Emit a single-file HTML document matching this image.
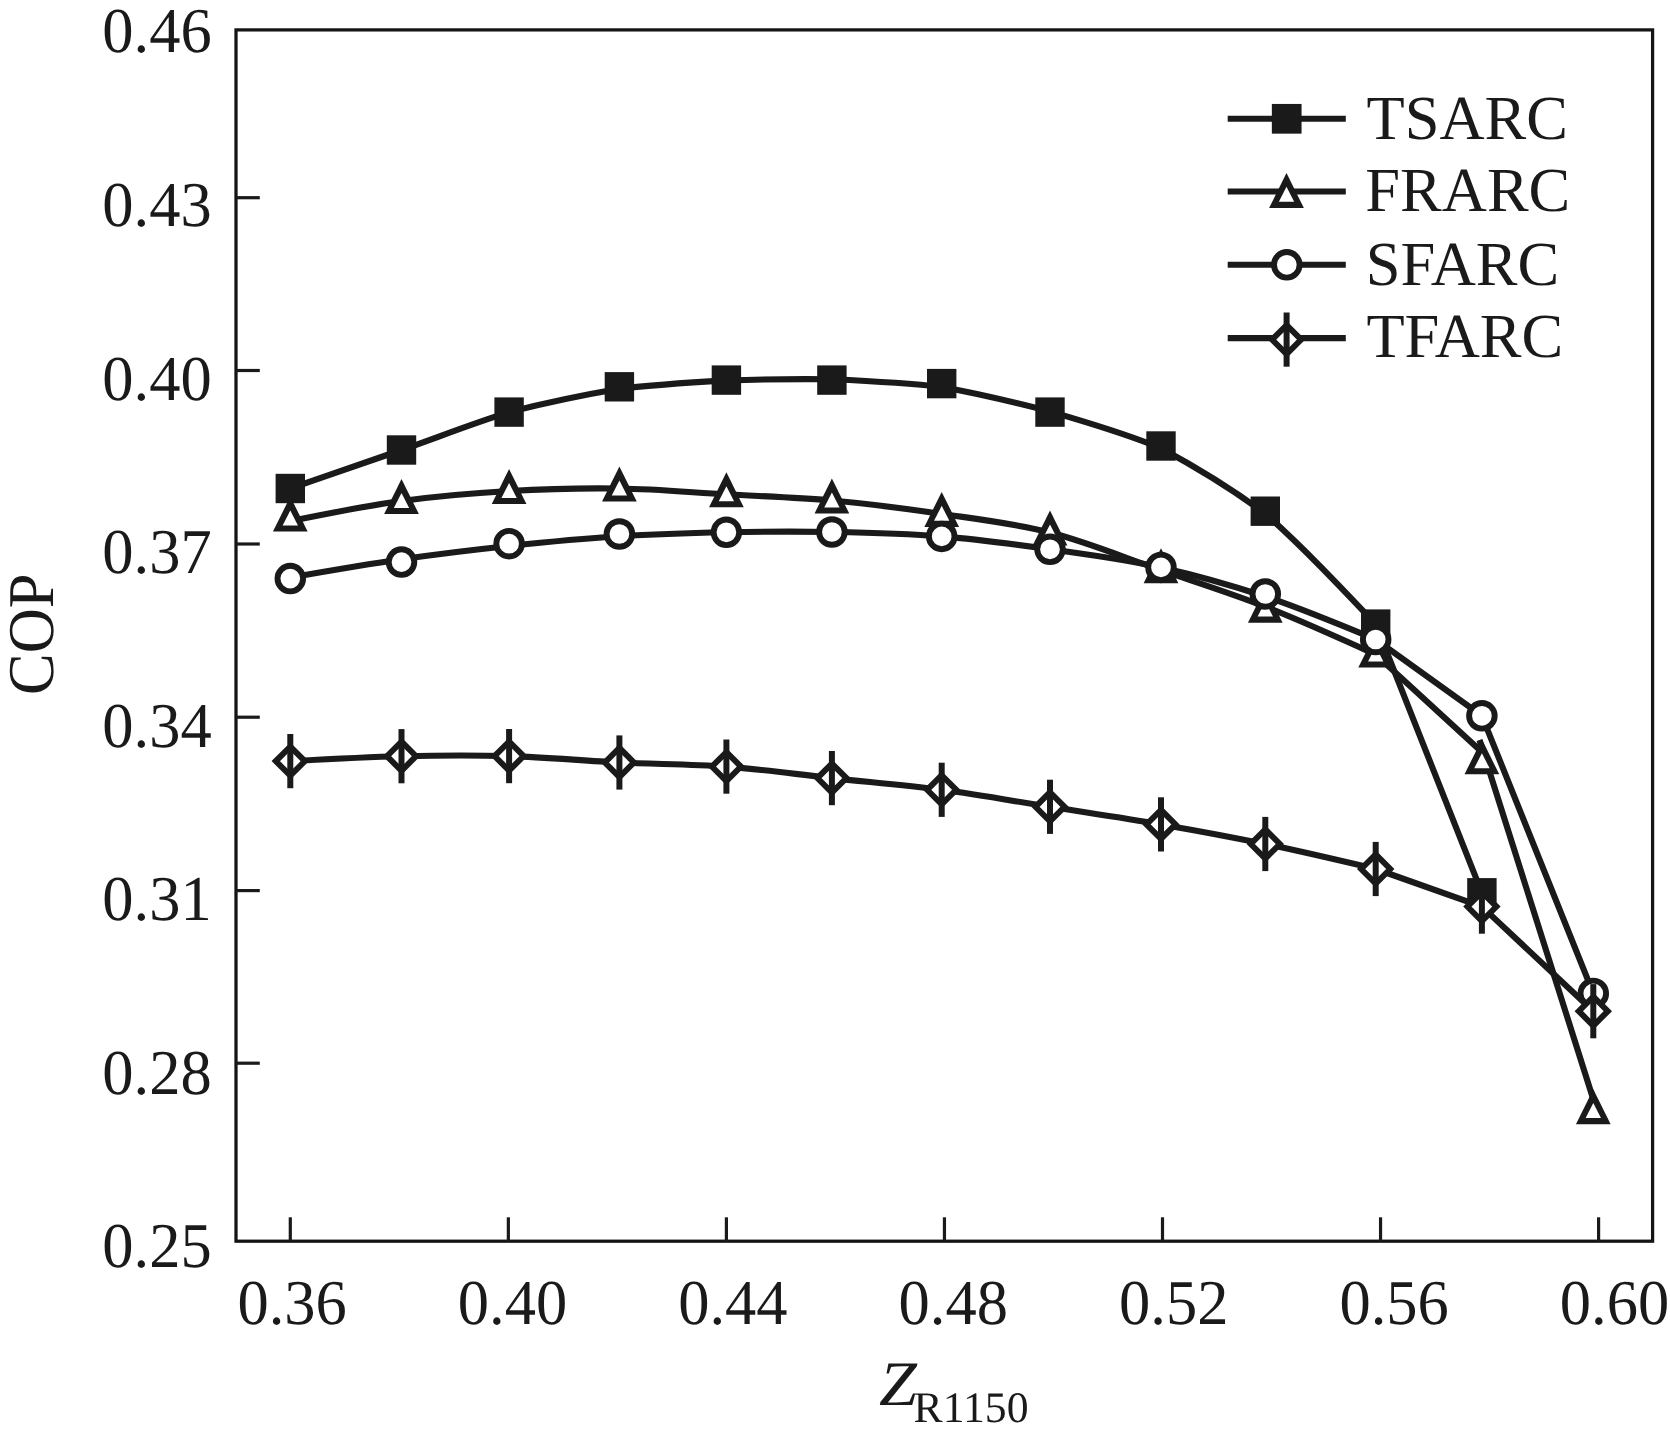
<!DOCTYPE html>
<html><head><meta charset="utf-8"><title>COP vs Z</title>
<style>
html,body{margin:0;padding:0;background:#fff;}
body{width:1670px;height:1441px;overflow:hidden;}
svg{display:block;position:absolute;left:0;top:0;}
text{font-family:"Liberation Serif",serif;fill:#1a1a1a;text-rendering:geometricPrecision;}
.t{font-size:62.5px;}
</style></head><body>
<svg width="1670" height="1441" viewBox="0 0 1670 1441">
<rect x="0" y="0" width="1670" height="1441" fill="#fff"/>
<rect x="236" y="29.9" width="1416.6" height="1211.3" fill="none" stroke="#141414" stroke-width="3.25"/>
<line x1="236" y1="197.7" x2="259.8" y2="197.7" stroke="#1a1a1a" stroke-width="3.2"/>
<line x1="236" y1="370.5" x2="259.8" y2="370.5" stroke="#1a1a1a" stroke-width="3.2"/>
<line x1="236" y1="544" x2="259.8" y2="544" stroke="#1a1a1a" stroke-width="3.2"/>
<line x1="236" y1="717.2" x2="259.8" y2="717.2" stroke="#1a1a1a" stroke-width="3.2"/>
<line x1="236" y1="890.6" x2="259.8" y2="890.6" stroke="#1a1a1a" stroke-width="3.2"/>
<line x1="236" y1="1063.2" x2="259.8" y2="1063.2" stroke="#1a1a1a" stroke-width="3.2"/>
<line x1="290.3" y1="1217.3" x2="290.3" y2="1241.2" stroke="#1a1a1a" stroke-width="3.2"/>
<line x1="508.35" y1="1217.3" x2="508.35" y2="1241.2" stroke="#1a1a1a" stroke-width="3.2"/>
<line x1="726.4" y1="1217.3" x2="726.4" y2="1241.2" stroke="#1a1a1a" stroke-width="3.2"/>
<line x1="944.45" y1="1217.3" x2="944.45" y2="1241.2" stroke="#1a1a1a" stroke-width="3.2"/>
<line x1="1162.5" y1="1217.3" x2="1162.5" y2="1241.2" stroke="#1a1a1a" stroke-width="3.2"/>
<line x1="1380.55" y1="1217.3" x2="1380.55" y2="1241.2" stroke="#1a1a1a" stroke-width="3.2"/>
<line x1="1598.6" y1="1217.3" x2="1598.6" y2="1241.2" stroke="#1a1a1a" stroke-width="3.2"/>
<text class="t" transform="translate(102.3,52.45) scale(1,1.022)">0.46</text>
<text class="t" transform="translate(102.3,226.01) scale(1,1.022)">0.43</text>
<text class="t" transform="translate(102.3,399.57) scale(1,1.022)">0.40</text>
<text class="t" transform="translate(102.3,573.13) scale(1,1.022)">0.37</text>
<text class="t" transform="translate(102.3,746.69) scale(1,1.022)">0.34</text>
<text class="t" transform="translate(102.3,920.25) scale(1,1.022)">0.31</text>
<text class="t" transform="translate(102.3,1093.81) scale(1,1.022)">0.28</text>
<text class="t" transform="translate(102.3,1267.37) scale(1,1.022)">0.25</text>
<text class="t" transform="translate(237.4,1323.95) scale(1,1.022)">0.36</text>
<text class="t" transform="translate(457.8,1323.95) scale(1,1.022)">0.40</text>
<text class="t" transform="translate(678.2,1323.95) scale(1,1.022)">0.44</text>
<text class="t" transform="translate(898.6,1323.95) scale(1,1.022)">0.48</text>
<text class="t" transform="translate(1119,1323.95) scale(1,1.022)">0.52</text>
<text class="t" transform="translate(1339.4,1323.95) scale(1,1.022)">0.56</text>
<text class="t" transform="translate(1559.8,1323.95) scale(1,1.022)">0.60</text>
<text class="t" transform="translate(52.55,634.2) rotate(-90) scale(1,1.045)" text-anchor="middle">COP</text>
<text class="t" transform="translate(879.0,1404.8) scale(1.09,1.012)" font-style="italic">Z</text>
<text x="913.6" y="1421.6" style="font-size:43.7px;filter:grayscale(1)">R1150</text>
<g id="tsarc">
<path d="M290.3,488.5C327.37,475.7 364.43,462.9 401.5,450C437.37,437.43 473.23,423.22 509.1,412.1C545.87,402.78 582.63,395.1 619.4,388.8C655.07,384.58 690.73,382.47 726.4,380.4C761.57,379.32 796.73,378.82 831.9,379.3C868.5,380.98 905.1,382.73 941.7,387C977.8,393.45 1013.9,402.11 1050,411.4C1087,422.51 1124,432.73 1161,448.3C1195.77,467.03 1230.53,488.01 1265.3,513.7C1302.1,546.38 1338.9,585.24 1375.7,624.1L1481.9,892.8" fill="none" stroke="#1a1a1a" stroke-width="6.1" stroke-linejoin="round"/>
<rect x="275.6" y="473.8" width="29.4" height="29.4" fill="#1a1a1a"/><rect x="386.8" y="435.3" width="29.4" height="29.4" fill="#1a1a1a"/><rect x="494.4" y="397.4" width="29.4" height="29.4" fill="#1a1a1a"/><rect x="604.7" y="372.1" width="29.4" height="29.4" fill="#1a1a1a"/><rect x="711.7" y="365.4" width="29.4" height="29.4" fill="#1a1a1a"/><rect x="817.2" y="365.4" width="29.4" height="29.4" fill="#1a1a1a"/><rect x="927" y="368.9" width="29.4" height="29.4" fill="#1a1a1a"/><rect x="1035.3" y="397.4" width="29.4" height="29.4" fill="#1a1a1a"/><rect x="1146.3" y="431.3" width="29.4" height="29.4" fill="#1a1a1a"/><rect x="1250.6" y="496.5" width="29.4" height="29.4" fill="#1a1a1a"/><rect x="1361" y="609.4" width="29.4" height="29.4" fill="#1a1a1a"/><rect x="1467.2" y="878.1" width="29.4" height="29.4" fill="#1a1a1a"/>
</g>
<g id="frarc">
<path d="M290.3,521.1C327.37,513.59 364.43,506.07 401.5,501C437.37,496.09 473.23,493.07 509.1,491C545.87,488.87 582.63,487.92 619.4,488.5C655.07,489.06 690.73,492.29 726.4,494.3C761.57,496.29 796.73,497.32 831.9,500.5C868.5,503.81 905.1,508.52 941.7,513.9C977.8,519.2 1013.9,523.27 1050,532.5C1087,541.96 1124,557.44 1161,570.2C1195.77,582.19 1230.53,593.07 1265.3,606.7C1302.1,621.12 1338.9,637.86 1375.7,654.6L1481.9,752M1479.5,740L1593.5,1100" fill="none" stroke="#1a1a1a" stroke-width="6.1" stroke-linejoin="round"/>
<polygon points="290.3,496.6 307.65,531.6 272.95,531.6" fill="#1a1a1a"/><polygon points="290.3,510.5 297.95,525.5 282.65,525.5" fill="#fff"/><polygon points="401.5,479 418.85,514 384.15,514" fill="#1a1a1a"/><polygon points="401.5,492.9 409.15,507.9 393.85,507.9" fill="#fff"/><polygon points="509.1,469 526.45,504 491.75,504" fill="#1a1a1a"/><polygon points="509.1,482.9 516.75,497.9 501.45,497.9" fill="#fff"/><polygon points="619.4,466.5 636.75,501.5 602.05,501.5" fill="#1a1a1a"/><polygon points="619.4,480.4 627.05,495.4 611.75,495.4" fill="#fff"/><polygon points="726.4,472.3 743.75,507.3 709.05,507.3" fill="#1a1a1a"/><polygon points="726.4,486.2 734.05,501.2 718.75,501.2" fill="#fff"/><polygon points="831.9,478.5 849.25,513.5 814.55,513.5" fill="#1a1a1a"/><polygon points="831.9,492.4 839.55,507.4 824.25,507.4" fill="#fff"/><polygon points="941.7,491.9 959.05,526.9 924.35,526.9" fill="#1a1a1a"/><polygon points="941.7,505.8 949.35,520.8 934.05,520.8" fill="#fff"/><polygon points="1050,510.5 1067.35,545.5 1032.65,545.5" fill="#1a1a1a"/><polygon points="1050,524.4 1057.65,539.4 1042.35,539.4" fill="#fff"/><polygon points="1161,548.2 1178.35,583.2 1143.65,583.2" fill="#1a1a1a"/><polygon points="1161,562.1 1168.65,577.1 1153.35,577.1" fill="#fff"/><polygon points="1265.3,587.7 1282.65,622.7 1247.95,622.7" fill="#1a1a1a"/><polygon points="1265.3,601.6 1272.95,616.6 1257.65,616.6" fill="#fff"/><polygon points="1375.7,632.6 1393.05,667.6 1358.35,667.6" fill="#1a1a1a"/><polygon points="1375.7,646.5 1383.35,661.5 1368.05,661.5" fill="#fff"/><polygon points="1481.9,739.3 1499.25,774.3 1464.55,774.3" fill="#1a1a1a"/><polygon points="1481.9,753.2 1489.55,768.2 1474.25,768.2" fill="#fff"/><polygon points="1593.3,1089.2 1610.65,1124.2 1575.95,1124.2" fill="#1a1a1a"/><polygon points="1593.3,1103.1 1600.95,1118.1 1585.65,1118.1" fill="#fff"/>
</g>
<g id="sfarc">
<path d="M290.3,577.6C327.37,571.12 364.43,564.64 401.5,559.3C437.37,554.13 473.23,549.79 509.1,546C545.87,542.11 582.63,538.6 619.4,536.3C655.07,534.07 690.73,533.02 726.4,532.3C761.57,531.59 796.73,531.35 831.9,532C868.5,532.68 905.1,533.49 941.7,536.4C977.8,539.27 1013.9,544.21 1050,549.3C1087,554.52 1124,559.22 1161,567.4C1195.77,575.08 1230.53,584.88 1265.3,596.5C1302.1,608.8 1338.9,624.15 1375.7,639.5L1481.9,715.8L1593.3,993.4" fill="none" stroke="#1a1a1a" stroke-width="6.1" stroke-linejoin="round"/>
<circle cx="290.3" cy="578.6" r="12.8" fill="#fff" stroke="#1a1a1a" stroke-width="5.9"/><circle cx="401.5" cy="562.1" r="12.8" fill="#fff" stroke="#1a1a1a" stroke-width="5.9"/><circle cx="509.1" cy="543.7" r="12.8" fill="#fff" stroke="#1a1a1a" stroke-width="5.9"/><circle cx="619.4" cy="534" r="12.8" fill="#fff" stroke="#1a1a1a" stroke-width="5.9"/><circle cx="726.4" cy="532.3" r="12.8" fill="#fff" stroke="#1a1a1a" stroke-width="5.9"/><circle cx="831.9" cy="532" r="12.8" fill="#fff" stroke="#1a1a1a" stroke-width="5.9"/><circle cx="941.7" cy="536.4" r="12.8" fill="#fff" stroke="#1a1a1a" stroke-width="5.9"/><circle cx="1050" cy="549.3" r="12.8" fill="#fff" stroke="#1a1a1a" stroke-width="5.9"/><circle cx="1161" cy="567.4" r="12.8" fill="#fff" stroke="#1a1a1a" stroke-width="5.9"/><circle cx="1265.3" cy="594" r="12.8" fill="#fff" stroke="#1a1a1a" stroke-width="5.9"/><circle cx="1375.7" cy="639.5" r="12.8" fill="#fff" stroke="#1a1a1a" stroke-width="5.9"/><circle cx="1481.9" cy="715.8" r="12.8" fill="#fff" stroke="#1a1a1a" stroke-width="5.9"/><circle cx="1593.3" cy="993.4" r="12.8" fill="#fff" stroke="#1a1a1a" stroke-width="5.9"/>
</g>
<g id="tfarc">
<path d="M290.3,761.1C327.37,759.07 364.43,757.03 401.5,756.2C437.37,755.39 473.23,755.08 509.1,756.1C545.87,757.15 582.63,760.73 619.4,762.5C655.07,764.22 690.73,763.97 726.4,766.6C761.57,769.19 796.73,774.31 831.9,778.1C868.5,782.04 905.1,784.98 941.7,789.8C977.8,794.56 1013.9,801.1 1050,806.8C1087,812.64 1124,817.99 1161,824.4C1195.77,830.42 1230.53,836.8 1265.3,844C1302.1,851.62 1338.9,860.31 1375.7,869L1481.9,906.6L1593.3,1011.2" fill="none" stroke="#1a1a1a" stroke-width="6.1" stroke-linejoin="round"/>
<polygon points="290.3,746.55 304.85,761.1 290.3,775.65 275.75,761.1" fill="#fff" stroke="#1a1a1a" stroke-width="5.9" stroke-linejoin="miter"/><line x1="290.3" y1="734" x2="290.3" y2="788.2" stroke="#1a1a1a" stroke-width="6"/><polygon points="401.5,741.65 416.05,756.2 401.5,770.75 386.95,756.2" fill="#fff" stroke="#1a1a1a" stroke-width="5.9" stroke-linejoin="miter"/><line x1="401.5" y1="729.1" x2="401.5" y2="783.3" stroke="#1a1a1a" stroke-width="6"/><polygon points="509.1,741.55 523.65,756.1 509.1,770.65 494.55,756.1" fill="#fff" stroke="#1a1a1a" stroke-width="5.9" stroke-linejoin="miter"/><line x1="509.1" y1="729" x2="509.1" y2="783.2" stroke="#1a1a1a" stroke-width="6"/><polygon points="619.4,747.95 633.95,762.5 619.4,777.05 604.85,762.5" fill="#fff" stroke="#1a1a1a" stroke-width="5.9" stroke-linejoin="miter"/><line x1="619.4" y1="735.4" x2="619.4" y2="789.6" stroke="#1a1a1a" stroke-width="6"/><polygon points="726.4,752.05 740.95,766.6 726.4,781.15 711.85,766.6" fill="#fff" stroke="#1a1a1a" stroke-width="5.9" stroke-linejoin="miter"/><line x1="726.4" y1="739.5" x2="726.4" y2="793.7" stroke="#1a1a1a" stroke-width="6"/><polygon points="831.9,763.55 846.45,778.1 831.9,792.65 817.35,778.1" fill="#fff" stroke="#1a1a1a" stroke-width="5.9" stroke-linejoin="miter"/><line x1="831.9" y1="751" x2="831.9" y2="805.2" stroke="#1a1a1a" stroke-width="6"/><polygon points="941.7,775.25 956.25,789.8 941.7,804.35 927.15,789.8" fill="#fff" stroke="#1a1a1a" stroke-width="5.9" stroke-linejoin="miter"/><line x1="941.7" y1="762.7" x2="941.7" y2="816.9" stroke="#1a1a1a" stroke-width="6"/><polygon points="1050,792.25 1064.55,806.8 1050,821.35 1035.45,806.8" fill="#fff" stroke="#1a1a1a" stroke-width="5.9" stroke-linejoin="miter"/><line x1="1050" y1="779.7" x2="1050" y2="833.9" stroke="#1a1a1a" stroke-width="6"/><polygon points="1161,809.85 1175.55,824.4 1161,838.95 1146.45,824.4" fill="#fff" stroke="#1a1a1a" stroke-width="5.9" stroke-linejoin="miter"/><line x1="1161" y1="797.3" x2="1161" y2="851.5" stroke="#1a1a1a" stroke-width="6"/><polygon points="1265.3,829.45 1279.85,844 1265.3,858.55 1250.75,844" fill="#fff" stroke="#1a1a1a" stroke-width="5.9" stroke-linejoin="miter"/><line x1="1265.3" y1="816.9" x2="1265.3" y2="871.1" stroke="#1a1a1a" stroke-width="6"/><polygon points="1375.7,854.45 1390.25,869 1375.7,883.55 1361.15,869" fill="#fff" stroke="#1a1a1a" stroke-width="5.9" stroke-linejoin="miter"/><line x1="1375.7" y1="841.9" x2="1375.7" y2="896.1" stroke="#1a1a1a" stroke-width="6"/><polygon points="1481.9,892.05 1496.45,906.6 1481.9,921.15 1467.35,906.6" fill="#fff" stroke="#1a1a1a" stroke-width="5.9" stroke-linejoin="miter"/><line x1="1481.9" y1="879.5" x2="1481.9" y2="933.7" stroke="#1a1a1a" stroke-width="6"/><polygon points="1593.3,996.65 1607.85,1011.2 1593.3,1025.75 1578.75,1011.2" fill="#fff" stroke="#1a1a1a" stroke-width="5.9" stroke-linejoin="miter"/><line x1="1593.3" y1="984.1" x2="1593.3" y2="1038.3" stroke="#1a1a1a" stroke-width="6"/>
</g>
<g id="legend">
<line x1="1227.7" y1="118.8" x2="1345.8" y2="118.8" stroke="#1a1a1a" stroke-width="6.1"/><line x1="1227.7" y1="191.5" x2="1345.8" y2="191.5" stroke="#1a1a1a" stroke-width="6.1"/><line x1="1227.7" y1="264.8" x2="1345.8" y2="264.8" stroke="#1a1a1a" stroke-width="6.1"/><line x1="1227.7" y1="338.1" x2="1345.8" y2="338.1" stroke="#1a1a1a" stroke-width="6.1"/><rect x="1271.85" y="103.95" width="29.7" height="29.7" fill="#1a1a1a"/><polygon points="1286.5,172.9 1303.85,207.9 1269.15,207.9" fill="#1a1a1a"/><polygon points="1286.5,186.8 1294.15,201.8 1278.85,201.8" fill="#fff"/><circle cx="1286.8" cy="264.8" r="12.8" fill="#fff" stroke="#1a1a1a" stroke-width="5.9"/><polygon points="1286.6,325.05 1301.15,339.6 1286.6,354.15 1272.05,339.6" fill="#fff" stroke="#1a1a1a" stroke-width="5.9" stroke-linejoin="miter"/><line x1="1286.6" y1="312.5" x2="1286.6" y2="366.7" stroke="#1a1a1a" stroke-width="6"/><text class="t" transform="translate(1366.5,138.8) scale(1,1.005)">TSARC</text>
<text class="t" transform="translate(1365.3,211.2) scale(1,1.005)">FRARC</text>
<text class="t" transform="translate(1365.8,284.8) scale(1,1.005)">SFARC</text>
<text class="t" transform="translate(1366.4,356.9) scale(1,1.005)">TFARC</text>
</g>
</svg>
</body></html>
